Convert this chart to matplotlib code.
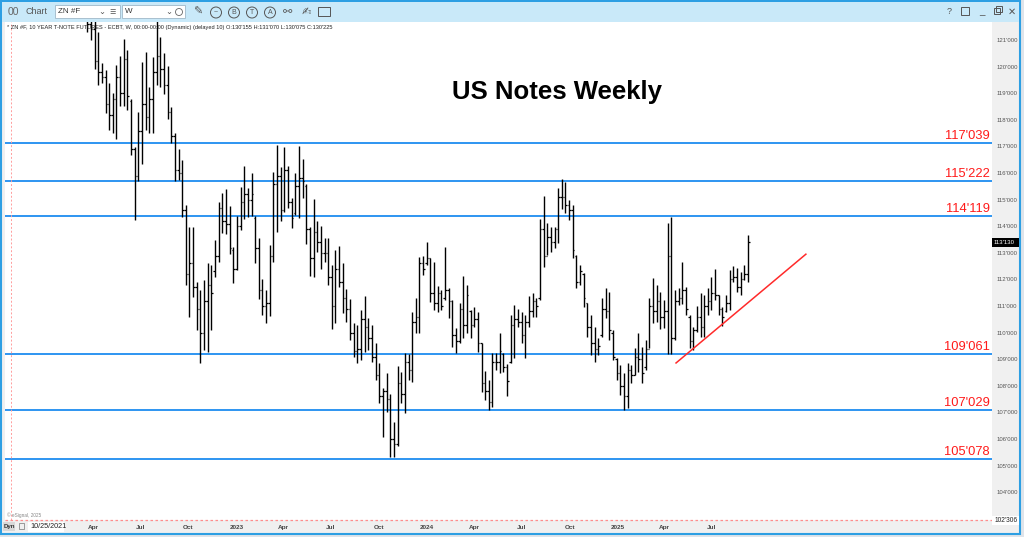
import numpy as np
import pandas as pd
import matplotlib
matplotlib.use("Agg")
import matplotlib.pyplot as plt
import matplotlib.dates as mdates
from matplotlib.patches import Rectangle, Circle

plt.rcParams['font.family'] = ['Liberation Sans', 'DejaVu Sans']

# ---------------------------------------------------------------
# DATA (weekly bars, 10 year T-note futures, decimal prices)
# ---------------------------------------------------------------
first_week = "2022-03-21"

highs = [
    122.6, 122.8, 122.3, 121.30, 120.14, 119.87, 119.38, 119.01, 120.06, 120.40,
    121.04, 120.62, 118.78, 116.98, 118.29, 120.17, 120.55, 119.23, 120.36, 122.2,
    121.11, 120.51, 120.02, 118.48, 117.50, 116.90, 116.49, 114.80, 113.97, 113.97,
    111.90, 111.60, 111.98, 112.62, 112.54, 113.48, 114.91, 115.25, 115.40, 114.76,
    113.22, 114.38, 115.47, 116.26, 115.44, 116.00, 114.38, 113.56, 112.02, 111.60,
    113.30, 116.04, 117.05, 116.23, 116.98, 116.26, 115.06, 116.00, 117.01, 116.53,
    115.59, 113.97, 115.02, 114.20, 114.00, 113.56, 113.56, 112.54, 113.11, 113.26,
    112.62, 111.64, 111.26, 110.36, 110.29, 110.85, 111.38, 110.55, 110.29, 109.61,
    108.86, 107.92, 108.48, 107.69, 106.64, 108.75, 108.52, 109.23, 109.20, 110.77,
    111.30, 112.84, 112.88, 113.41, 112.80, 112.65, 111.75, 111.60, 113.22, 111.67,
    111.23, 110.17, 111.11, 112.13, 111.79, 110.85, 110.96, 110.77, 109.61, 108.56,
    108.22, 109.23, 109.23, 109.99, 109.23, 108.82, 110.66, 111.04, 110.89, 110.77,
    110.66, 111.38, 111.49, 111.30, 114.27, 115.14, 114.12, 113.97, 113.97, 115.44,
    115.77, 115.66, 114.99, 114.80, 112.92, 112.54, 112.24, 111.11, 110.66, 110.21,
    109.80, 111.30, 111.67, 111.53, 110.10, 109.05, 108.78, 108.48, 108.86, 108.78,
    109.42, 109.99, 109.46, 109.72, 111.30, 112.05, 111.79, 111.53, 111.23, 114.12,
    114.35, 111.60, 111.67, 112.65, 111.71, 110.66, 110.21, 111.00, 111.49, 111.41,
    111.67, 112.09, 112.39, 111.41, 110.96, 111.41, 112.35, 112.50, 112.43, 112.28,
    112.54, 113.67]

lows = [
    121.30, 121.00, 119.91, 119.31, 119.38, 118.26, 117.62, 117.50, 117.28, 118.52,
    118.52, 118.37, 116.68, 114.23, 115.70, 116.34, 117.62, 117.50, 117.50, 119.31,
    119.23, 118.97, 118.03, 117.13, 115.70, 115.74, 114.35, 111.79, 110.59, 111.34,
    110.10, 108.86, 109.35, 109.27, 110.10, 112.09, 112.65, 113.75, 113.71, 112.95,
    111.86, 112.35, 113.86, 114.27, 114.35, 114.38, 112.62, 111.26, 110.66, 110.36,
    110.62, 112.65, 113.78, 114.20, 114.53, 114.68, 113.93, 114.42, 114.31, 115.06,
    113.33, 112.13, 112.09, 113.03, 112.39, 112.65, 111.79, 110.14, 110.36, 111.71,
    110.74, 110.40, 109.72, 109.08, 108.86, 108.97, 109.27, 109.35, 108.90, 108.22,
    107.35, 106.07, 107.01, 105.32, 105.32, 105.74, 107.35, 106.98, 108.22, 108.14,
    109.99, 109.99, 112.17, 112.54, 111.15, 110.85, 110.77, 110.85, 111.23, 110.55,
    109.46, 109.23, 109.61, 109.80, 109.99, 109.80, 110.21, 109.27, 107.77, 107.47,
    107.09, 107.20, 108.59, 108.48, 108.52, 107.62, 108.86, 109.05, 110.21, 109.61,
    109.05, 110.21, 110.59, 110.59, 111.23, 112.47, 112.92, 113.03, 113.18, 113.37,
    114.65, 114.50, 114.23, 112.80, 111.67, 111.79, 110.96, 109.84, 109.16, 108.90,
    109.16, 109.84, 110.55, 109.72, 108.97, 108.22, 107.66, 107.09, 107.17, 108.11,
    108.41, 108.52, 108.11, 108.59, 109.42, 110.36, 110.40, 110.14, 110.17, 109.20,
    109.20, 109.72, 111.04, 111.08, 110.66, 109.42, 109.35, 110.02, 109.84, 109.84,
    110.66, 110.85, 111.23, 110.66, 110.25, 110.77, 110.85, 111.90, 111.53, 111.41,
    111.98, 111.90]

opens = [
    122.0, 121.6, 121.4, 120.2, 119.8, 119.6, 118.6, 118.2, 118.8, 119.6,
    119.0, 120.3, 118.7, 116.9, 115.9, 117.6, 118.6, 118.1, 118.8, 119.8,
    120.4, 119.9, 119.3, 118.3, 117.4, 116.1, 116.0, 114.6, 112.2, 112.6,
    111.7, 110.9, 110.0, 111.2, 111.8, 112.3, 112.9, 114.7, 114.2, 114.1,
    113.1, 112.4, 114.0, 114.9, 115.2, 115.0, 114.3, 113.2, 111.6, 111.0,
    111.1, 112.9, 115.6, 115.9, 114.6, 116.1, 114.9, 114.5, 115.5, 115.8,
    115.5, 113.9, 112.8, 113.8, 113.4, 113.0, 113.0, 112.1, 111.0, 112.4,
    111.9, 111.3, 110.9, 110.0, 109.3, 109.4, 110.5, 110.2, 109.8, 109.1,
    108.4, 107.6, 107.8, 107.5, 106.0, 105.8, 108.1, 107.7, 108.9, 108.6,
    110.4, 110.6, 112.6, 112.6, 112.8, 111.5, 111.1, 111.5, 111.3, 111.6,
    111.2, 109.9, 109.7, 110.9, 110.3, 110.8, 110.3, 110.5, 109.6, 108.1,
    107.8, 107.4, 108.9, 108.9, 109.2, 108.7, 108.9, 110.3, 110.5, 110.4,
    109.9, 110.4, 110.8, 111.2, 111.3, 113.9, 112.9, 113.6, 113.4, 113.9,
    115.1, 115.1, 114.8, 114.6, 112.9, 111.9, 112.2, 111.1, 110.2, 109.6,
    109.4, 109.9, 110.9, 110.8, 110.0, 109.0, 108.5, 108.0, 107.6, 108.6,
    108.4, 109.1, 109.0, 108.7, 109.4, 111.0, 110.8, 111.2, 110.6, 110.8,
    112.9, 109.8, 111.2, 111.3, 111.6, 110.6, 109.7, 110.1, 110.6, 110.2,
    111.0, 111.2, 111.5, 111.4, 110.9, 110.8, 111.1, 112.0, 112.1, 111.7,
    112.0, 112.2]

closes = [
    121.6, 121.4, 120.2, 119.8, 119.6, 118.6, 118.2, 118.8, 119.6, 119.0,
    120.3, 118.9, 116.9, 115.9, 117.6, 118.6, 118.1, 118.8, 119.8, 120.4,
    119.9, 119.3, 118.3, 117.4, 116.1, 116.0, 114.6, 112.2, 112.6, 111.7,
    110.9, 110.0, 111.2, 111.8, 111.5, 112.9, 114.7, 114.2, 114.1, 113.2,
    112.4, 114.0, 114.9, 115.2, 115.0, 115.2, 113.2, 111.6, 111.0, 111.1,
    112.9, 115.6, 115.9, 114.6, 116.1, 114.9, 114.3, 115.5, 115.8, 115.7,
    113.9, 112.8, 113.8, 113.4, 113.0, 113.0, 112.1, 111.0, 112.4, 111.9,
    111.3, 110.9, 110.0, 109.3, 109.4, 110.5, 110.2, 109.8, 109.1, 108.4,
    107.6, 107.8, 107.5, 106.0, 105.8, 108.1, 107.7, 108.9, 108.6, 110.4,
    110.6, 112.6, 112.4, 112.8, 111.5, 111.1, 111.5, 111.0, 111.6, 111.2,
    109.9, 109.7, 110.9, 110.3, 111.4, 110.3, 110.5, 109.6, 108.1, 107.8,
    107.4, 108.9, 108.9, 109.3, 108.7, 108.2, 110.3, 110.5, 110.4, 109.9,
    110.4, 110.8, 111.2, 111.0, 113.9, 112.9, 113.6, 113.4, 113.9, 115.1,
    115.1, 114.8, 114.6, 113.1, 111.9, 112.3, 111.3, 110.2, 109.6, 109.4,
    109.5, 110.9, 110.8, 110.1, 109.1, 108.5, 108.0, 107.6, 108.6, 108.4,
    109.1, 109.0, 108.5, 109.4, 111.0, 110.8, 111.2, 110.6, 110.8, 112.9,
    109.8, 111.2, 111.3, 111.6, 110.9, 109.7, 110.1, 110.6, 110.2, 111.0,
    111.2, 111.5, 111.4, 110.9, 110.6, 111.1, 112.0, 112.1, 111.7, 112.0,
    112.2, 113.41]

# support / resistance levels (117'039 = 117 + 3.9/32 ...)
levels = [117.122, 115.694, 114.372, 109.191, 107.091, 105.244]
level_labels = ["117'039", "115'222", "114'119", "109'061", "107'029", "105'078"]

trend_dates = ["2025-04-23", "2025-12-28"]
trend_prices = [108.86, 112.95]

tick_dates = ["2022-04-01", "2022-07-01", "2022-10-01", "2023-01-01",
              "2023-04-01", "2023-07-01", "2023-10-01", "2024-01-01",
              "2024-04-01", "2024-07-01", "2024-10-01", "2025-01-01",
              "2025-04-01", "2025-07-01"]
tick_labels = ["Apr", "Jul", "Oct", "2023", "Apr", "Jul", "Oct", "2024",
               "Apr", "Jul", "Oct", "2025", "Apr", "Jul"]

price_ticks = list(range(104, 122))
last_price = 113.406
last_label = "113'130"
floor_price = 102.956
floor_label = "102'306"
start_marker = "2021-10-25"
header = ("* ZN #F, 10 YEAR T-NOTE FUTURES - ECBT, W, 00:00-00:00 (Dynamic) "
          "(delayed 10) O:130'155 H:131'070 L:130'075 C:130'225")

# ---------------------------------------------------------------
# FIGURE
# ---------------------------------------------------------------
W, H = 1024, 537
fig = plt.figure(figsize=(W / 100, H / 100), dpi=100)
fig.patch.set_facecolor('#dfe4ea')

# background layer (window chrome)
bg = fig.add_axes([0, 0, 1, 1], zorder=-1)
bg.set_xlim(0, W)
bg.set_ylim(H, 0)
bg.axis('off')
bg.add_patch(Rectangle((1, 1), 1019, 533, facecolor='#f0f0f0',
                       edgecolor='#2d9fe3', lw=1.5))
bg.add_patch(Rectangle((2, 2), 1017, 20, facecolor='#c9e9f9', edgecolor='none'))

# main chart
ax = fig.add_axes([5 / W, 17 / H, 987 / W, 498 / H])
ax.set_facecolor('white')
for s in ax.spines.values():
    s.set_visible(False)

dates = pd.date_range(first_week, periods=len(highs), freq='7D')
x = mdates.date2num(dates)
ax.vlines(x, lows, highs, color='black', lw=1.0, zorder=3)
ax.hlines(opens, x - 3, x, color='black', lw=0.9, zorder=3)
ax.hlines(closes, x, x + 3, color='black', lw=0.9, zorder=3)

ref = mdates.date2num(pd.Timestamp("2022-04-01"))
px_day = 0.5215
ax.set_xlim(ref - (93 - 5) / px_day, ref + (992 - 93) / px_day)
ax.set_ylim(floor_price, 121.68)

for lvl, lab in zip(levels, level_labels):
    ax.axhline(lvl, color='#1e8cf0', lw=1.3, zorder=2)
    ax.annotate(lab, xy=(1, lvl), xycoords=('axes fraction', 'data'),
                xytext=(-2, 1.5), textcoords='offset pixels',
                ha='right', va='bottom', color='#ff1a1a', fontsize=9.3)

ax.plot(pd.to_datetime(trend_dates), trend_prices, color='#ff2a2a', lw=1.1,
        zorder=4)

# start marker and floor line
ax.axvline(mdates.date2num(pd.Timestamp(start_marker)), color='#ff9c9c',
           lw=0.7, ls=(0, (2, 2)))
ax.axhline(floor_price, color='#ff8c8c', lw=0.9, ls=(0, (2, 2)), clip_on=False)

# axes ticks
ax.yaxis.tick_right()
ax.set_yticks(price_ticks)
ax.set_yticklabels([f"{p}'000" for p in price_ticks])
ax.tick_params(axis='y', length=0, pad=3, labelsize=4.3, labelcolor='#555555')
ax.set_xticks(mdates.date2num(pd.to_datetime(tick_dates)))
ax.set_xticklabels(tick_labels)
ax.tick_params(axis='x', length=0, pad=3.5, labelsize=4.6, labelcolor='#444444')
for t in ax.get_xticklabels():
    t.set_fontweight('bold')

# overlay layer
top = fig.add_axes([0, 0, 1, 1], zorder=5)
top.set_xlim(0, W)
top.set_ylim(H, 0)
top.axis('off')

top.text(557, 92, "US Notes Weekly", ha='center', va='center',
         fontsize=18.5, fontweight='bold')
top.text(7, 28, header, ha='left', va='center', fontsize=4.05, color='#222222')
top.text(7, 515, "© eSignal, 2025", ha='left', va='center', fontsize=3.4,
         color='#888888')

# price boxes on the right scale
y_last = 22 + (121.68 - last_price) / (121.68 - floor_price) * 498
top.add_patch(Rectangle((992, y_last - 4.5), 27, 9, facecolor='black'))
top.text(994, y_last, last_label, ha='left', va='center', fontsize=4.3,
         color='white')
top.add_patch(Rectangle((992, 515.5), 27, 9, facecolor='white'))
top.text(995, 520, floor_label, ha='left', va='center', fontsize=4.8,
         color='#222222')

# bottom strip: Dyn / lock / start date
top.add_patch(Rectangle((3, 522), 12, 9, facecolor='#d8d8d8', edgecolor='none'))
top.text(4, 526.5, "Dyn", ha='left', va='center', fontsize=4.4,
         fontweight='bold', color='#333333')
top.add_patch(Rectangle((19, 523), 5, 6, facecolor='none', edgecolor='#777777',
                        lw=0.5))
top.add_patch(Rectangle((28, 521.5), 36, 10, facecolor='white', edgecolor='none'))
top.text(30, 526.5, "10/25/2021", ha='left', va='center', fontsize=5.2,
         color='#222222')

# toolbar
top.text(8, 12, "00", ha='left', va='center', fontsize=7.5, color='#666666')
top.text(25, 12, "Chart", ha='left', va='center', fontsize=6.5, color='#555555')
top.add_patch(Rectangle((55, 5), 65, 13, facecolor='white', edgecolor='#9fb8c8',
                        lw=0.6))
top.text(58, 11.5, "ZN #F", ha='left', va='center', fontsize=5.8, color='#333333')
top.text(102, 11.5, "⌄", ha='center', va='center', fontsize=6, color='#555555',
         family=['DejaVu Sans'])
top.text(112, 11.5, "☰", ha='center', va='center', fontsize=5, color='#555555',
         family=['DejaVu Sans'])
top.add_patch(Rectangle((122, 5), 63, 13, facecolor='white', edgecolor='#9fb8c8',
                        lw=0.6))
top.text(125, 11.5, "W", ha='left', va='center', fontsize=5.8, color='#333333')
top.text(169, 11.5, "⌄", ha='center', va='center', fontsize=6, color='#555555',
         family=['DejaVu Sans'])
top.add_patch(Circle((179, 12), 3.5, facecolor='none', edgecolor='#666666',
                     lw=0.6))
top.text(198, 12, "✎", ha='center', va='center', fontsize=8, color='#555555',
         family=['DejaVu Sans'])
for cx, letter in [(216, "~"), (234, "B"), (252, "T"), (270, "A")]:
    top.add_patch(Circle((cx, 12.5), 5.5, facecolor='none', edgecolor='#555555',
                         lw=0.7))
    top.text(cx, 12.5, letter, ha='center', va='center', fontsize=5,
             color='#555555')
top.text(288, 12, "⚯", ha='center', va='center', fontsize=8, color='#555555',
         family=['DejaVu Sans'])
top.text(306, 12, "✍", ha='center', va='center', fontsize=8, color='#555555',
         family=['DejaVu Sans'])
top.add_patch(Rectangle((318, 7), 12, 9, facecolor='none', edgecolor='#555555',
                        lw=0.7))
top.text(949, 12, "?", ha='center', va='center', fontsize=6.5, color='#555555')
top.add_patch(Rectangle((961, 7), 8, 8, facecolor='none', edgecolor='#555555',
                        lw=0.7))
top.text(982, 11, "_", ha='center', va='center', fontsize=7, color='#555555')
top.add_patch(Rectangle((994, 8), 6, 6, facecolor='none', edgecolor='#555555',
                        lw=0.7))
top.add_patch(Rectangle((996, 6), 6, 6, facecolor='none', edgecolor='#555555',
                        lw=0.7))
top.text(1012, 12, "✕", ha='center', va='center', fontsize=7, color='#555555',
         family=['DejaVu Sans'])

fig.savefig("out.png", dpi=100)
